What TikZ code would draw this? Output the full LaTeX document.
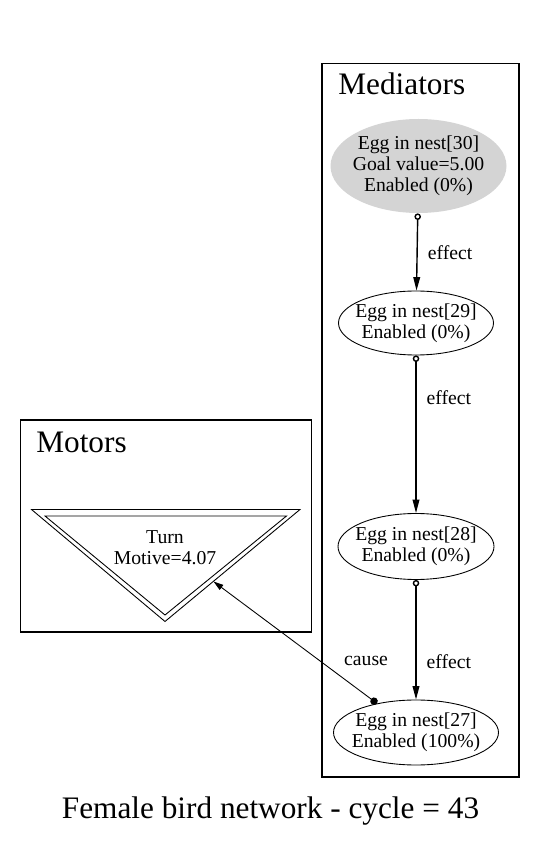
\documentclass[tikz,border=0pt]{standalone}
\usepackage{fontspec}
\setmainfont{Liberation Serif}
\usetikzlibrary{arrows.meta,positioning,shapes.geometric}

\begin{document}
\begin{tikzpicture}[>={Triangle[length=2.7mm,width=1.35mm]},
	state/.style={ellipse, draw, line width=0.5pt, inner xsep=-0.5cm, inner ysep=0pt, align=center, font=\fontsize{11.2}{12}\selectfont},
	goal/.style={state, draw=none, fill=black!17},
	cluster/.style={draw, line width=0.6pt},
	effect/.style={line width=0.8pt, {Circle[open,length=1.3mm]}->},
	cause/.style={line width=0.5pt, {Circle[length=1.5mm]}-{Triangle[length=2mm,width=1.2mm]}},
	lbl/.style={inner sep=0pt, font=\fontsize{11.2}{12}\selectfont},
	title/.style={inner sep=0pt, font=\fontsize{17.8}{20}\selectfont}]
		\useasboundingbox (0,0) rectangle (10.74,16.82);

		\begin{scope}
			\draw [cluster] (6.44,1.28) rectangle (10.38,15.55);
			\node (medlbl) at (6.76,14.92) [title, anchor=base west] {Mediators};

			\node (egg30) at (8.37,13.5) [goal, minimum width=3.52cm, minimum height=1.88cm] {Egg in nest[30]\\Goal value=5.00\\Enabled (0\%)};
			\node (egg29) at (8.32,10.36) [state, minimum width=3.1cm, minimum height=1.28cm] {Egg in nest[29]\\Enabled (0\%)};
			\node (egg28) at (8.32,5.89) [state, minimum width=3.12cm, minimum height=1.32cm] {Egg in nest[28]\\Enabled (0\%)};
			\node (egg27) at (8.32,2.17) [state, minimum width=3.3cm, minimum height=1.3cm] {Egg in nest[27]\\Enabled (100\%)};
		\end{scope}

		\begin{scope}
			\draw [cluster] (0.41,4.18) rectangle (6.23,8.42);
			\node (motlbl) at (0.72,7.77) [title, anchor=base west] {Motors};

			\draw [line width=0.5pt] (0.63,6.63) -- (6.0,6.63) -- (3.3,4.39) -- cycle;
			\draw [line width=0.5pt] (0.9,6.5) -- (5.73,6.5) -- (3.3,4.52) -- cycle;
			\node (turn) at (3.3,5.86) [lbl, align=center] {Turn\\Motive=4.07};
			\coordinate (turntip) at (4.27,5.19);
		\end{scope}

		\draw [effect] (egg30) -- (egg29) node (eff1) [lbl, pos=0.51, right=0.2cm] {effect};
		\draw [effect] (egg29) -- (egg28) node (eff2) [lbl, pos=0.27, right=0.2cm] {effect};
		\draw [effect] (egg28) -- (egg27) node (eff3) [lbl, pos=0.68, right=0.2cm] {effect};
		\draw [cause] (egg27) -- (turntip) node (causelbl) [lbl, pos=0.35, right=0.48cm] {cause};

		\node (caption) at (5.41,0.44) [title, anchor=base] {Female bird network - cycle = 43};
	\end{tikzpicture}
\end{document}
